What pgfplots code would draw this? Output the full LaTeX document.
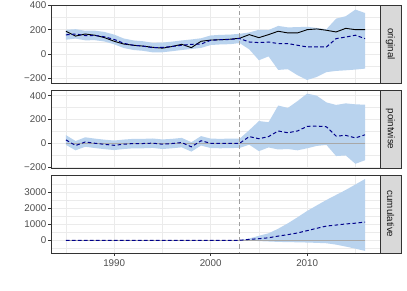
\documentclass[border=0pt]{standalone}
\usepackage{fontspec}
\setmainfont{Liberation Sans}
\usepackage{pgfplots}
\pgfplotsset{compat=1.18}
\usepackage{pgfplotstable}

\definecolor{bandc}{HTML}{B9D3EE}
\definecolor{gridc}{HTML}{EBEBEB}
\definecolor{framec}{HTML}{333333}
\definecolor{labc}{HTML}{4D4D4D}
\definecolor{stripc}{HTML}{D9D9D9}
\definecolor{stript}{HTML}{1A1A1A}
\definecolor{zeroc}{HTML}{A8A8A8}
\definecolor{vlinec}{HTML}{A0A0A0}
\definecolor{predc}{HTML}{00008B}

% original series: observed and predicted
\pgfplotstableread{
year obs pred
1985 188 158
1986 148 165
1987 165 152
1988 155 153
1989 135 142
1990 105 120
1991 82 88
1992 72 72
1993 65 65
1994 55 52
1995 48 54
1996 62 62
1997 80 72
1998 52 80
1999 105 82
2000 115 113
2001 118 118
2002 122 120
2003 130 128
2004 160 99
2005 135 94
2006 160 99
2007 188 86
2008 174 86
2009 174 72
2010 201 58
2011 207 58
2012 196 58
2013 182 127
2014 212 140
2015 201 155
2016 201 127
}\orig

% interval of the prediction: upper edge forward, lower edge back
\pgfplotstableread{
year y
1985 200
1986 205
1987 192
1988 193
1989 182
1990 160
1991 128
1992 112
1993 105
1994 92
1995 94
1996 102
1997 112
1998 120
1999 130
2000 153
2001 158
2002 160
2003 167
2004 178
2005 200
2006 198
2007 232
2008 220
2009 222
2010 225
2011 215
2012 205
2013 292
2014 312
2015 367
2016 339
2016 -121
2015 -129
2014 -135
2013 -140
2012 -150
2011 -190
2010 -215
2009 -176
2008 -126
2007 -132
2006 -20
2005 -52
2004 38
2003 90
2002 81
2001 79
2000 74
1999 50
1998 41
1997 33
1996 23
1995 14
1994 13
1993 26
1992 33
1991 49
1990 80
1989 103
1988 114
1987 113
1986 127
1985 118
}\origband

% pointwise effect
\pgfplotstableread{
year pw
1985 30
1986 -17
1987 13
1988 2
1989 -7
1990 -15
1991 -6
1992 0
1993 0
1994 3
1995 -6
1996 0
1997 8
1998 -28
1999 23
2000 2
2001 0
2002 2
2003 2
2004 58
2005 40
2006 58
2007 105
2008 90
2009 105
2010 144
2011 146
2012 140
2013 62
2014 68
2015 47
2016 73
}\pwise

\pgfplotstableread{
year y
1985 70
1986 21
1987 52
1988 41
1989 32
1990 25
1991 33
1992 39
1993 39
1994 42
1995 34
1996 39
1997 47
1998 11
1999 62
2000 41
2001 39
2002 41
2003 40
2004 112
2005 188
2006 178
2007 318
2008 298
2009 355
2010 418
2011 400
2012 344
2013 323
2014 336
2015 328
2016 325
2016 -140
2015 -170
2014 -100
2013 -105
2012 -12
2011 -20
2010 -40
2009 -57
2008 -46
2007 -50
2006 -33
2005 -64
2004 -10
2003 -37
2002 -38
2001 -40
2000 -38
1999 -17
1998 -68
1997 -32
1996 -40
1995 -46
1994 -37
1993 -40
1992 -40
1991 -46
1990 -55
1989 -47
1988 -38
1987 -27
1986 -57
1985 -12
}\pwiseband

% cumulative effect
\pgfplotstableread{
year cum
1985 0
1990 0
1995 0
2000 0
2003 0
2004 58
2005 98
2006 156
2007 261
2008 351
2009 456
2010 600
2011 746
2012 886
2013 948
2014 1016
2015 1063
2016 1136
}\cumul

\pgfplotstableread{
year y
2003 0
2004 110
2005 280
2006 435
2007 720
2008 1056
2009 1430
2010 1826
2011 2170
2012 2509
2013 2820
2014 3130
2015 3470
2016 3810
2016 -660
2015 -520
2014 -390
2013 -270
2012 -185
2011 -160
2010 -140
2009 -125
2008 -115
2007 -100
2006 -75
2005 -50
2004 -10
2003 0
}\cumulband

\pgfplotsset{
  panel/.style={
    scale only axis, width=329pt, height=78pt,
    xmin=1983.45, xmax=2017.55,
    xtick={1990,2000,2010}, minor xtick={1985,1995,2005,2015},
    grid=both,
    major grid style={gridc, line width=0.9pt},
    minor grid style={gridc, line width=0.45pt},
    axis line style={framec, line width=0.7pt},
    tick align=outside, major tick length=3pt, minor tick length=0pt,
    tick style={framec, line width=0.6pt},
    xtick pos=bottom, ytick pos=left,
    ticklabel style={font=\fontsize{9.8}{11}\selectfont, text=labc},
    yticklabel style={inner sep=1.5pt},
  },
  bandfill/.style={fill=bandc, draw=none},
  obsline/.style={black, line width=0.9pt},
  predline/.style={predc, line width=1pt, dash pattern=on 3.6pt off 2.4pt},
  vline/.style={vlinec, line width=0.7pt, dash pattern=on 4.5pt off 3pt},
  zline/.style={zeroc, line width=0.9pt},
}

\newcommand{\facetstrip}[2]{%
  \draw[framec, fill=stripc, line width=0.6pt] (#1.south east) rectangle ([xshift=21pt]#1.north east);
  \node[rotate=-90, text=stript, font=\fontsize{9.8}{11}\selectfont] at ([xshift=10.5pt]#1.east) {#2};
}

\begin{document}
\begin{tikzpicture}
\useasboundingbox (0,0) rectangle (407pt,291pt);

% original
\begin{axis}[panel, name=p1, at={(51pt,208pt)}, anchor=south west,
  ymin=-240, ymax=405,
  ytick={-200,0,200,400}, yticklabels={−200,0,200,400},
  minor ytick={-100,100,300},
  xticklabels={}, xtick style={draw=none}]
\addplot[bandfill] table[x=year, y=y] {\origband} -- cycle;
\addplot[vline] coordinates {(2003,-300) (2003,500)};
\addplot[obsline] table[x=year, y=obs] {\orig};
\addplot[predline] table[x=year, y=pred] {\orig};
\end{axis}
\facetstrip{p1}{original}

% pointwise
\begin{axis}[panel, name=p2, at={(51pt,123pt)}, anchor=south west,
  ymin=-205, ymax=448,
  ytick={-200,0,200,400}, yticklabels={−200,0,200,400},
  minor ytick={-100,100,300},
  xticklabels={}, xtick style={draw=none}]
\addplot[bandfill] table[x=year, y=y] {\pwiseband} -- cycle;
\addplot[zline] coordinates {(1985,0) (2016,0)};
\addplot[vline] coordinates {(2003,-300) (2003,500)};
\addplot[predline] table[x=year, y=pw] {\pwise};
\end{axis}
\facetstrip{p2}{pointwise}

% cumulative
\begin{axis}[panel, name=p3, at={(51pt,38pt)}, anchor=south west,
  ymin=-790, ymax=4060,
  ytick={0,1000,2000,3000}, yticklabels={0,1000,2000,3000},
  minor ytick={-500,500,1500,2500,3500},
  xticklabels={1990,2000,2010}]
\addplot[bandfill] table[x=year, y=y] {\cumulband} -- cycle;
\addplot[zline] coordinates {(1985,0) (2016,0)};
\addplot[vline] coordinates {(2003,-1000) (2003,5000)};
\addplot[predline] table[x=year, y=cum] {\cumul};
\end{axis}
\facetstrip{p3}{cumulative}
\end{tikzpicture}
\end{document}
